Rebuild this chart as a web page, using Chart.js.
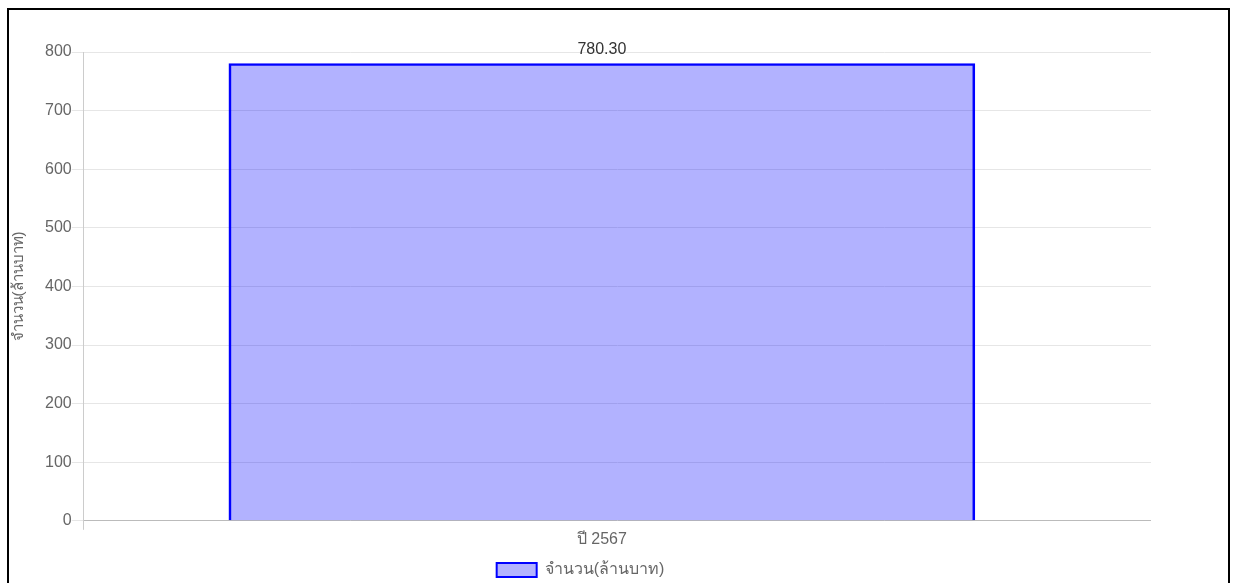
<!DOCTYPE html>
<html>
<head>
<meta charset="utf-8">
<script src="https://cdn.jsdelivr.net/npm/chart.js@4.4.1/dist/chart.umd.min.js"></script>
<style>
  body { margin: 0; background: #fff; }
  .frame {
    position: absolute; left: 7px; top: 8px;
    width: 1223px; height: 600px;
    border: 2px solid #000; box-sizing: border-box;
  }
  .chartBox {
    position: absolute; left: 10px; top: 10px;
    width: 1141px; height: 578px;
  }
</style>
</head>
<body>
<div class="frame"></div>
<div class="chartBox"><canvas id="budgetChart"></canvas></div>
<script>
const categories = ["ปี 2567"];
const amounts = [780.30];
const yTickValues = [0, 100, 200, 300, 400, 500, 600, 700, 800];
const seriesLabel = "จำนวน(ล้านบาท)";

const CHART1 = document.getElementById("budgetChart");
Chart.defaults.font.family = "'Liberation Sans', Arial, sans-serif";
Chart.defaults.color = "#666";

// draws the value above each bar, using the bar element position
const valueLabels = {
  id: "valueLabels",
  afterDatasetsDraw(chart) {
    const ctx = chart.ctx;
    chart.data.datasets.forEach(function (ds, di) {
      chart.getDatasetMeta(di).data.forEach(function (bar, i) {
        ctx.save();
        ctx.fillStyle = "#333";
        ctx.font = "16px 'Liberation Sans', Arial, sans-serif";
        ctx.textAlign = "center";
        ctx.textBaseline = "bottom";
        ctx.fillText(Number(amounts[i]).toFixed(2), bar.x, bar.y - 6);
        ctx.restore();
      });
    });
  }
};

let budgetChart = new Chart(CHART1, {
  type: "bar",
  data: {
    datasets: [
      {
        label: seriesLabel,
        backgroundColor: "rgba(0, 0, 255, 0.3)",
        borderColor: "#0000ff",
        borderWidth: 2,
        barThickness: 746,
        data: amounts.map(function (v, i) { return { x: i, y: v }; }),
      },
    ],
  },
  options: {
    responsive: true,
    maintainAspectRatio: false,
    animation: false,
    layout: {
      padding: { top: 42, right: 0, left: 0, bottom: 0 },
    },
    plugins: {
      tooltip: { enabled: false },
      legend: {
        position: "bottom",
        labels: {
          boxWidth: 40,
          boxHeight: 14,
          padding: 13,
          color: "#666",
          font: { size: 16 },
        },
      },
    },
    scales: {
      x: {
        type: "linear",
        offset: false,
        min: -0.4855,
        max: 0.5145,
        afterBuildTicks: function (axis) {
          axis.ticks = [{ value: axis.min }].concat(categories.map(function (c, i) { return { value: i }; }));
        },
        ticks: {
          color: "#666",
          font: { size: 16 },
          padding: 0,
          callback: function (value, index) {
            return index === 0 ? "" : categories[index - 1];
          },
        },
        grid: {
          offset: false,
          drawOnChartArea: false,
          tickLength: 9,
          color: function (ctx) {
            return ctx.index === 0 ? "#cccccc" : "rgba(0,0,0,0)";
          },
        },
        border: { color: "#bbbbbb" },
      },
      y: {
        min: 0,
        max: 800,
        afterBuildTicks: function (axis) {
          axis.ticks = yTickValues.map(function (v) { return { value: v }; });
        },
        ticks: {
          color: "#666",
          font: { size: 16 },
          padding: 0,
        },
        grid: {
          color: "#e6e6e6",
          tickLength: 12,
        },
        border: { color: "#cccccc" },
        title: {
          display: true,
          text: seriesLabel,
          color: "#666",
          font: { size: 15 },
          padding: { top: 0, bottom: 17 },
        },
      },
    },
  },
  plugins: [valueLabels],
});
</script>
</body>
</html>
